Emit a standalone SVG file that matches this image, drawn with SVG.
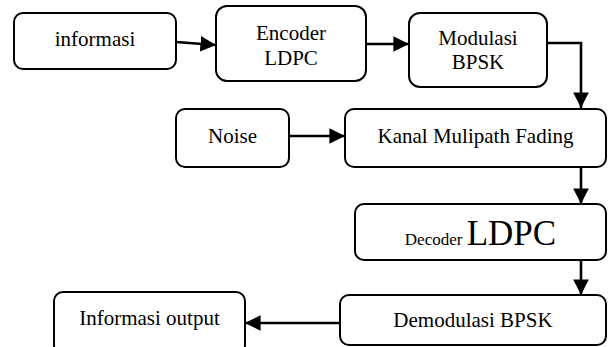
<svg xmlns="http://www.w3.org/2000/svg" width="608" height="347" viewBox="0 0 608 347">
<defs>
<marker id="ah" viewBox="0 0 10 10" refX="10" refY="5" markerWidth="6" markerHeight="6" markerUnits="strokeWidth" orient="auto">
<path d="M0,0 L10,5 L0,10 z" fill="#000"/>
</marker>
<style>
.box{fill:#fff;stroke:#000;stroke-width:2}
.t{font-family:"Liberation Serif","Times New Roman",serif;font-size:21px;fill:#000;text-anchor:middle}
.c{fill:none;stroke:#000;stroke-width:2.6;marker-end:url(#ah)}
</style>
</defs>
<rect width="608" height="347" fill="#fff"/>
<g id="connectors">
<path class="c" d="M176,42 L216,45"/>
<path class="c" d="M366,44 L409,44"/>
<path class="c" d="M547,43 L581,43 L581,108"/>
<path class="c" d="M289,136 L345,136"/>
<path class="c" d="M581,167 L581,204"/>
<path class="c" d="M581,260 L581,295"/>
<path class="c" d="M340,323 L245,323"/>
</g>
<g id="informasi">
<rect class="box" x="14" y="13" width="162" height="56" rx="9"/>
<text class="t" x="95" y="46">informasi</text>
</g>
<g id="encoder">
<rect class="box" x="216" y="6" width="150" height="75" rx="11"/>
<text class="t" x="291" y="40">Encoder</text>
<text class="t" x="291" y="65">LDPC</text>
</g>
<g id="modulasi">
<rect class="box" x="409" y="13" width="138" height="74" rx="11"/>
<text class="t" x="478" y="45">Modulasi</text>
<text class="t" x="478" y="69">BPSK</text>
</g>
<g id="noise">
<rect class="box" x="176" y="109" width="113" height="58" rx="9"/>
<text class="t" x="232.5" y="143">Noise</text>
</g>
<g id="kanal">
<rect class="box" x="345" y="109" width="261" height="58" rx="9"/>
<text class="t" x="475.5" y="143">Kanal Mulipath Fading</text>
</g>
<g id="decoder">
<rect class="box" x="355" y="204" width="251" height="56" rx="9"/>
<text class="t" x="480.5" y="245"><tspan font-size="17">Decoder </tspan><tspan font-size="35">LDPC</tspan></text>
</g>
<g id="demodulasi">
<rect class="box" x="340" y="295" width="266" height="50" rx="9"/>
<text class="t" x="473" y="327">Demodulasi BPSK</text>
</g>
<g id="output">
<rect class="box" x="54" y="292" width="191" height="62" rx="9"/>
<text class="t" x="149.5" y="325">Informasi output</text>
</g>
</svg>
